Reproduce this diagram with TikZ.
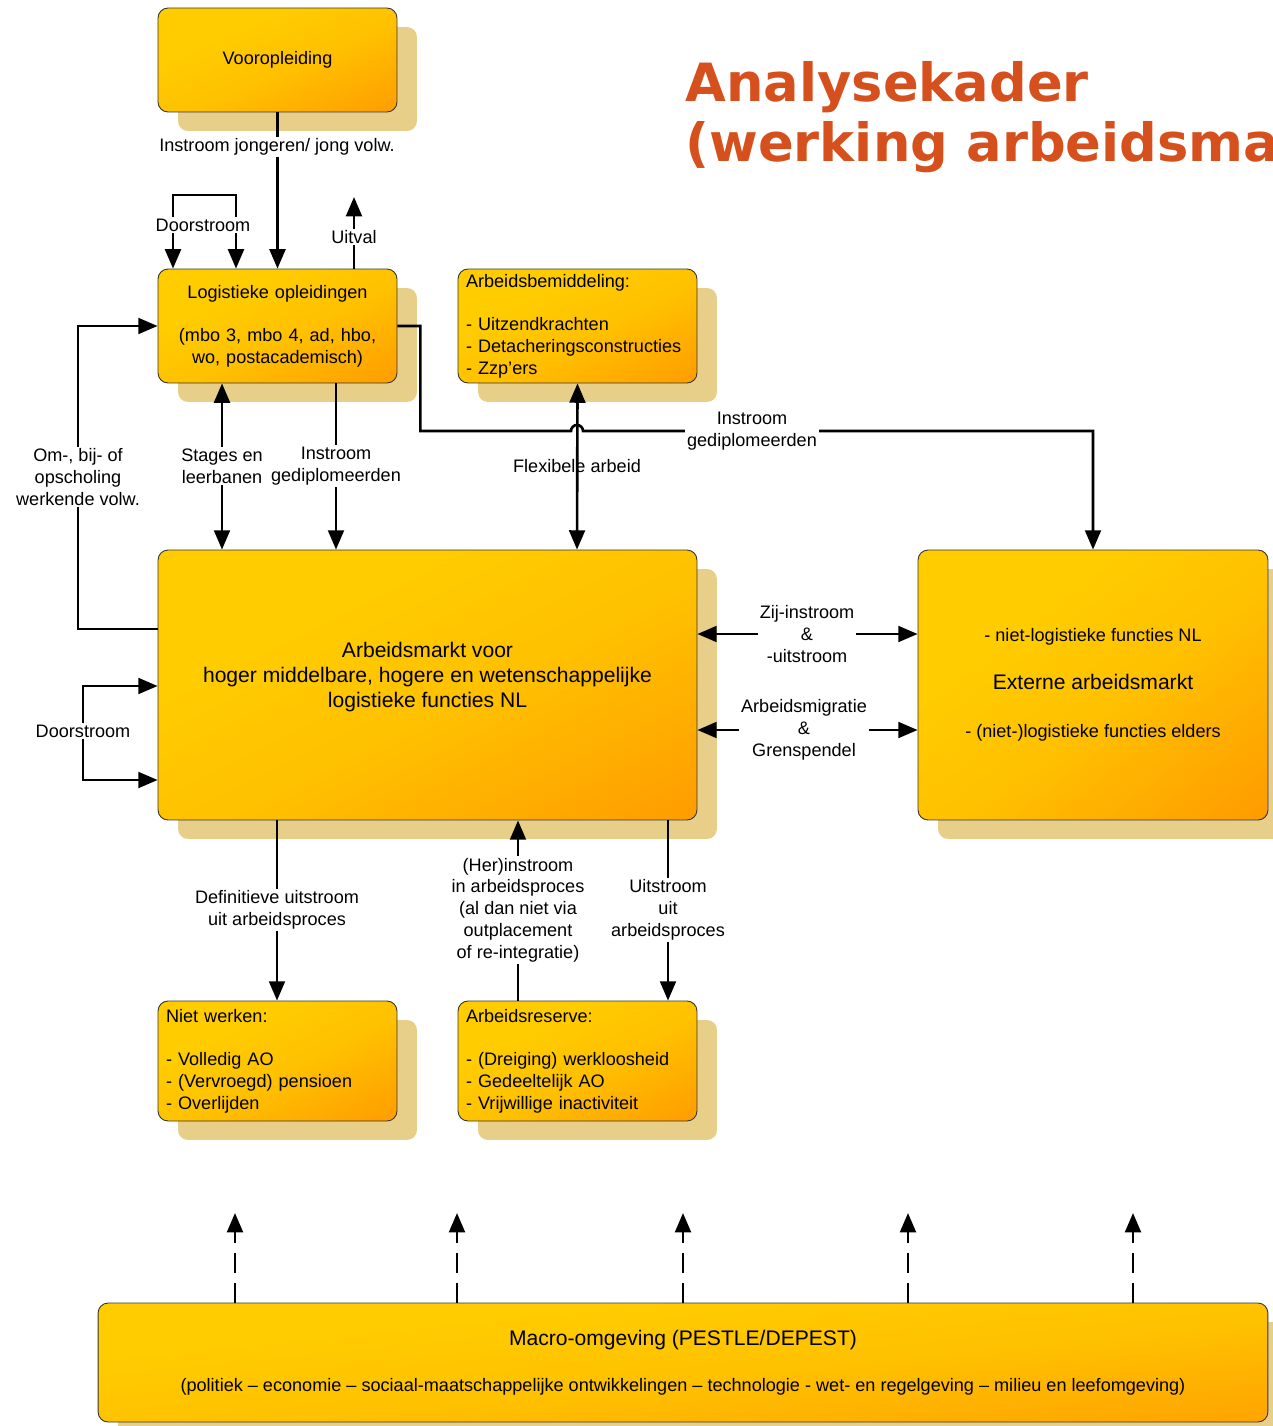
\documentclass[tikz,border=0pt]{standalone}
\usepackage{fontspec}
\setmainfont{Liberation Sans}
\newfontfamily\titlefont{DejaVu Sans}
\usetikzlibrary{arrows.meta,calc,shadows}
\usetikzlibrary{positioning}

\definecolor{boxyellow}{RGB}{255,204,0}
\definecolor{boxmid}{RGB}{255,192,0}
\definecolor{boxorange}{RGB}{255,153,0}
\definecolor{boxshadow}{RGB}{232,207,137}
\definecolor{titleorange}{RGB}{214,80,30}
\pgfdeclarehorizontalshading{boxgrad}{100bp}{color(0bp)=(boxyellow); color(35bp)=(boxyellow); color(55bp)=(boxmid); color(86bp)=(boxorange); color(100bp)=(boxorange)}

\begin{document}
\begin{tikzpicture} [
    x=0.02cm, y=-0.02cm,
    box/.style={rectangle, rounded corners=0.2cm, draw=black!80, line width=0.5pt, shade, shading=boxgrad, shading angle=#1,
        drop shadow={shadow xshift=0.4cm, shadow yshift=-0.38cm, fill=boxshadow, opacity=1},
        inner xsep=0.16cm, inner ysep=0pt, font=\fontsize{10.3}{12.4}\selectfont},
    box/.default=-64,
    smallbox/.style={box=#1, minimum width=4.78cm, text width=4.46cm},
    smallbox/.default=-64.5,
    lbl/.style={font=\fontsize{10.3}{12.4}\selectfont, align=center, fill=white, inner sep=1pt},
    flow/.style={->, line width=1.5pt},
    macroflow/.style={->, line width=1.5pt, dash pattern=on 11pt off 6pt},
    >={Triangle[length=11pt,width=9pt]}
    ]
    \useasboundingbox (0,0) rectangle (1273,1426);
    %Nodes
    \node[smallbox=-66.5, minimum height=2.08cm, align=center] (voor)    at (277.5,60)   {Vooropleiding};
    \node[smallbox, minimum height=2.28cm, align=center] (logi)    at (277.5,326)  {Logistieke opleidingen\\[12.4pt](mbo 3, mbo 4, ad, hbo,\\wo, postacademisch)};
    \node[smallbox, minimum height=2.28cm, align=left]   (bemid)   at (577.5,326)  {Arbeidsbemiddeling:\\[12.4pt]- Uitzendkrachten\\- Detacheringsconstructies\\- Zzp'ers};
    \node[box=-63.4, minimum width=10.78cm, minimum height=5.4cm] (markt) at (427.5,685) {};
    \node[font=\fontsize{12}{14.2}\selectfont, align=center] (markttxt) at (427.5,677) {Arbeidsmarkt voor\\hoger middelbare, hogere en wetenschappelijke\\logistieke functies NL};
    \node[box=-52.4, minimum width=7cm, minimum height=5.4cm, align=center] (extern) at (1093,685) {- niet-logistieke functies NL\\[15pt]{\fontsize{12}{14.2}\selectfont Externe arbeidsmarkt}\\[15pt]- (niet-)logistieke functies elders};
    \node[smallbox=-63.3, minimum height=2.4cm, align=left]    (niet)    at (277.5,1061) {Niet werken:\\[12.4pt]- Volledig AO\\- (Vervroegd) pensioen\\- Overlijden};
    \node[smallbox=-63.3, minimum height=2.4cm, align=left]    (reserve) at (577.5,1061) {Arbeidsreserve:\\[12.4pt]- (Dreiging) werkloosheid\\- Gedeeltelijk AO\\- Vrijwillige inactiviteit};
    \node[box=-84.2, minimum width=23.4cm, minimum height=2.38cm, align=center] (macro) at (683,1362.5) {{\fontsize{12}{14.2}\selectfont Macro-omgeving (PESTLE/DEPEST)}\\[13.5pt](politiek -- economie -- sociaal-maatschappelijke ontwikkelingen -- technologie - wet- en regelgeving -- milieu en leefomgeving)};
    \node[font=\titlefont\bfseries\fontsize{30}{34}\selectfont, text=titleorange, align=left, anchor=north west, inner sep=0pt] (title) at (685,61) {Analysekader\\(werking arbeidsmarkt)};
    %Points
    \coordinate (jong)   at (277,147);
    \coordinate (d1a)    at (173,195);
    \coordinate (d1b)    at (236,195);
    \coordinate (uitval) at (354,197);
    \coordinate (om)     at (78,477);
    \coordinate (stage)  at (222,466);
    \coordinate (instr)  at (336,466);
    \coordinate (flex)   at (577,466);
    \coordinate (hop)    at (577,431);
    \coordinate (gdip)   at (752,431);
    \coordinate (zij)    at (807,634);
    \coordinate (migr)   at (804,730);
    \coordinate (d2a)    at (83,686);
    \coordinate (d2b)    at (83,780);
    \coordinate (defin)  at (277,910);
    \coordinate (her)    at (518,910);
    \coordinate (uitstr) at (668,910);
    %Lines
    \draw[flow] (voor.south) -- (logi.north);
    \node[lbl] at (jong) {Instroom jongeren/ jong volw.};
    \draw[flow, <->] (logi.north -| d1a) -- (d1a) -- (d1b) -- (logi.north -| d1b);
    \node[lbl] at (203,225) {Doorstroom};
    \draw[flow] (logi.north -| uitval) -- (uitval);
    \node[lbl] at (354,237) {Uitval};
    \draw[flow] ([yshift=1.12cm]markt.west) -| (om) |- (logi.west);
    \node[lbl] at (om) {Om-, bij- of\\opscholing\\werkende volw.};
    \draw[flow, <->] (logi.south -| stage) -- (markt.north -| stage);
    \node[lbl] at (stage) {Stages en\\leerbanen};
    \draw[flow] (logi.south -| instr) -- (markt.north -| instr);
    \node[lbl] at (instr) {Instroom\\gediplomeerden};
    \draw[flow] (logi.east) -- ++(23,0) |- ($(hop)+(-6,0)$) arc[start angle=180, end angle=0, radius=0.12cm] -| (extern.north);
    \node[lbl] at (gdip) {Instroom\\gediplomeerden};
    \draw[flow, <->] (bemid.south) -- (markt.north -| flex);
    \node[lbl, fill=none] at (flex) {Flexibele arbeid};
    \draw[flow, <->] (markt.east |- zij) -- (extern.west |- zij);
    \node[lbl] at (zij) {Zij-instroom\\\&\\-uitstroom};
    \draw[flow, <->] (markt.east |- migr) -- (extern.west |- migr);
    \node[lbl] at (migr) {Arbeidsmigratie\\\&\\Grenspendel};
    \draw[flow, <->] (markt.west |- d2a) -- (d2a) -- (d2b) -- (markt.west |- d2b);
    \node[lbl] at (83,731) {Doorstroom};
    \draw[flow] (markt.south -| defin) -- (niet.north -| defin);
    \node[lbl] at (defin) {Definitieve uitstroom\\uit arbeidsproces};
    \draw[flow] (reserve.north -| her) -- (markt.south -| her);
    \node[lbl] at (her) {(Her)instroom\\in arbeidsproces\\(al dan niet via\\outplacement\\of re-integratie)};
    \draw[flow] (markt.south -| uitstr) -- (reserve.north -| uitstr);
    \node[lbl] at (uitstr) {Uitstroom\\uit\\arbeidsproces};
    \foreach \x [count=\i] in {235,457,683,908,1133}{
        \coordinate (env\i) at (\x,1213);
        \draw[macroflow] (macro.north -| env\i) -- (env\i);
    }
\end{tikzpicture}
\end{document}
